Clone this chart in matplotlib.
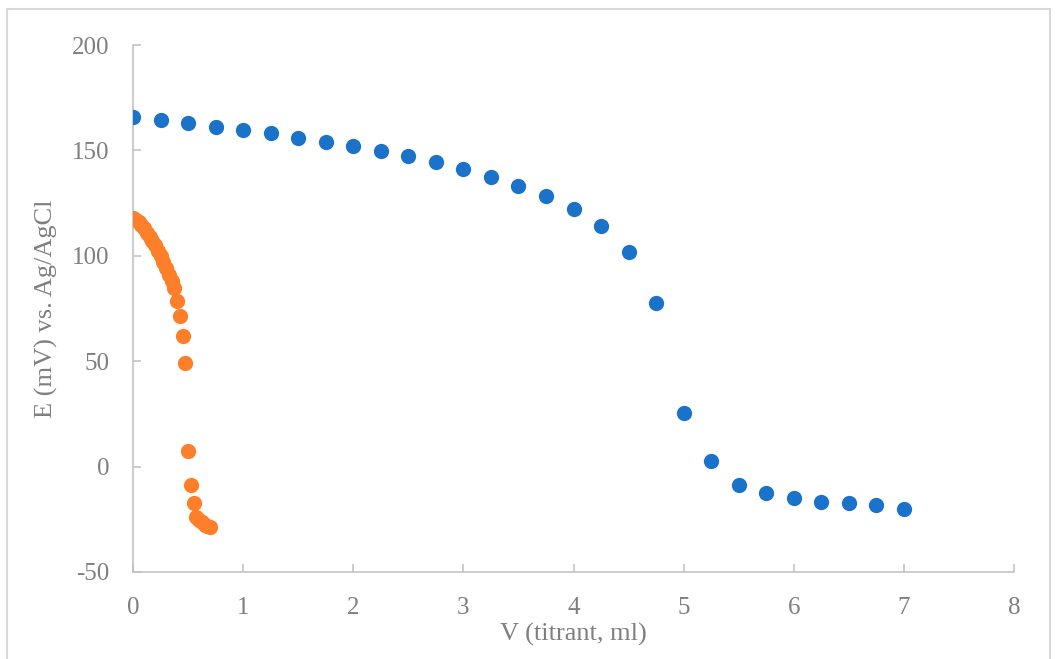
import matplotlib
matplotlib.use("Agg")
import matplotlib.pyplot as plt
from matplotlib.lines import Line2D

# Data
v_blue = [0, 0.25, 0.5, 0.75, 1, 1.25, 1.5, 1.75, 2, 2.25, 2.5, 2.75, 3, 3.25, 3.5,
          3.75, 4, 4.25, 4.5, 4.75, 5, 5.25, 5.5, 5.75, 6, 6.25, 6.5, 6.75, 7]
e_blue = [166.0, 164.6, 163.2, 161.3, 159.9, 158.4, 156.1, 154.2, 152.3, 149.9, 147.5,
          144.7, 141.4, 137.6, 133.3, 128.6, 122.4, 114.3, 102.0, 77.8, 25.6, 2.8,
          -8.5, -12.3, -14.7, -16.6, -17.1, -18.0, -19.9]

v_orange = [0, 0.025, 0.05, 0.075, 0.1, 0.125, 0.15, 0.175, 0.2, 0.225, 0.25, 0.275,
            0.3, 0.325, 0.35, 0.375, 0.4, 0.425, 0.45, 0.475, 0.5, 0.525, 0.55, 0.575,
            0.6, 0.625, 0.65, 0.675, 0.7]
e_orange = [118.0, 117.0, 116.0, 114.5, 113.0, 111.0, 109.0, 107.0, 105.0, 102.5, 100.0,
            97.0, 94.0, 91.0, 88.0, 84.5, 78.5, 71.5, 62.0, 49.0, 7.5, -8.5, -17.5, -24.0,
            -25.5, -26.5, -27.5, -28.0, -28.5]

x_ticks = [0, 1, 2, 3, 4, 5, 6, 7, 8]
y_ticks = [-50, 0, 50, 100, 150, 200]
x_label = "V (titrant, ml)"
y_label = "E (mV) vs. Ag/AgCl"

plt.rcParams['font.family'] = ['Liberation Serif', 'DejaVu Serif']
plt.rcParams['axes.unicode_minus'] = False
grey_text = '#7f7f7f'
axis_grey = '#bfbfbf'

fig = plt.figure(figsize=(10.57, 6.59), dpi=100)
ax = fig.add_axes([133/1057, 1-572/659, (1014-133)/1057, (572-45)/659])

ax.plot(v_blue, e_blue, 'o', color='#1b72c9', markersize=11, markeredgewidth=0, zorder=3)
ax.plot(v_orange, e_orange, 'o', color='#fd7f2a', markersize=11, markeredgewidth=0, zorder=3)

ax.set_xlim(0, 8)
ax.set_ylim(-50, 200)
ax.set_xticks(x_ticks)
ax.set_yticks(y_ticks)
ax.spines['top'].set_visible(False)
ax.spines['right'].set_visible(False)
for s in ['left', 'bottom']:
    ax.spines[s].set_color(axis_grey)
    ax.spines[s].set_linewidth(1.1)
    ax.spines[s].set_zorder(1)
ax.tick_params(direction='in', length=6, width=1.1, color=axis_grey,
               labelcolor=grey_text, labelsize=18)
ax.tick_params(axis='x', pad=18)
ax.tick_params(axis='y', pad=17)
ax.set_xlabel(x_label, fontsize=19, color=grey_text, labelpad=3)
ax.set_ylabel(y_label, fontsize=19, color=grey_text, labelpad=10)

# figure border
W, H = 1057, 659
for (x0, y0, x1, y1) in [(7, 9, 1050, 9), (7, 9, 7, 659), (1050, 9, 1050, 659)]:
    fig.add_artist(Line2D([x0/W, x1/W], [1-y0/H, 1-y1/H], color='#d9d9d9', lw=1.5))

fig.savefig('out.png', dpi=100)
